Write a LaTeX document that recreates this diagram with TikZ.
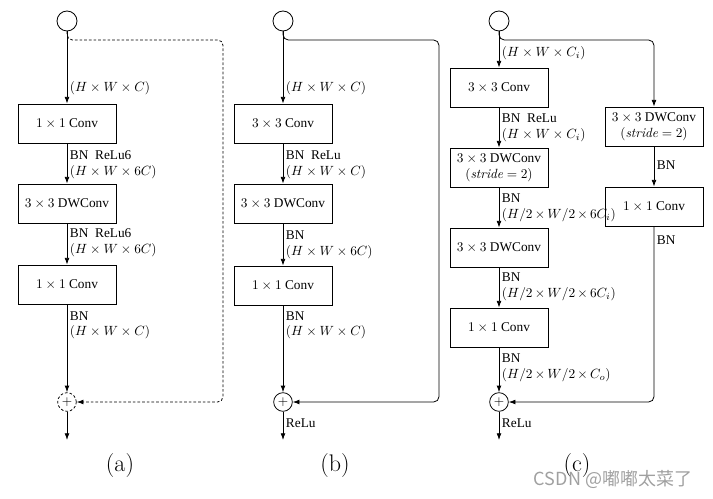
\documentclass[tikz,border=0pt]{standalone}
\usepackage{fontspec}
\usepackage{amsmath}
\usetikzlibrary{arrows.meta}
\newfontfamily\tms{Liberation Serif}
\newfontfamily\cjk{Noto Sans CJK SC}
\definecolor{wmgray}{RGB}{160,160,160}

\tikzset{
  layer/.style={draw, line width=0.6pt, minimum width=73.5pt, minimum height=29.25pt, inner sep=0pt, font=\tms, align=center},
  port/.style={draw, circle, line width=0.6pt, minimum size=15pt, inner sep=0pt},
  flow/.style={line width=0.6pt, -{Latex[length=5pt,width=3.6pt]}},
  tag/.style={anchor=west, inner sep=0.5pt, font=\tms},
  caption/.style={font=\fontsize{18}{20}\selectfont}
}

\begin{document}
\begin{tikzpicture}[x=0.75pt,y=-0.75pt]
\useasboundingbox (0,0) rectangle (713,499);

% (a) inverted residual, stride 1
\node[port] (ain) at (67,21) {};
\node[layer] (abox1) at (67,123.5) {$1\times1$ Conv};
\node[layer] (abox2) at (67,203.5) {$3\times3$ DWConv};
\node[layer] (abox3) at (67,284.5) {$1\times1$ Conv};
\node[port, dashed, dash pattern=on 2pt off 1.5pt, minimum size=14pt] (aplus) at (67,402) {$+$};
\coordinate (aout) at (67,440);
\coordinate (askip) at (223,40);
\draw[flow] (ain) -- (abox1);
\draw[flow] (abox1) -- (abox2);
\draw[flow] (abox2) -- (abox3);
\draw[flow] (abox3) -- (aplus);
\draw[flow] (aplus) -- (aout);
\draw[flow, dashed, dash pattern=on 2pt off 1.5pt, rounded corners=4pt] (ain.south) |- (askip) |- (aplus.east);
\node[tag] at (69,88) {$(H\times W\times C)$};
\node[tag] at (69,155) {BN\ \ ReLu6};
\node[tag] at (69,172) {$(H\times W\times 6C)$};
\node[tag] at (69,233) {BN\ \ ReLu6};
\node[tag] at (69,250) {$(H\times W\times 6C)$};
\node[tag] at (69,316) {BN};
\node[tag] at (69,332) {$(H\times W\times C)$};
\node[caption] (acap) at (120,466) {(a)};

% (b) basic unit, stride 1
\node[port] (bin) at (283,21) {};
\node[layer] (bbox1) at (283,123.5) {$3\times3$ Conv};
\node[layer] (bbox2) at (283,203.5) {$3\times3$ DWConv};
\node[layer] (bbox3) at (283,285.5) {$1\times1$ Conv};
\node[port, minimum size=14pt] (bplus) at (283,402) {$+$};
\coordinate (bout) at (283,440);
\coordinate (bskip) at (439,40);
\draw[flow] (bin) -- (bbox1);
\draw[flow] (bbox1) -- (bbox2);
\draw[flow] (bbox2) -- (bbox3);
\draw[flow] (bbox3) -- (bplus);
\draw[flow] (bplus) -- (bout);
\draw[flow, rounded corners=4pt] (bin.south) |- (bskip) |- (bplus.east);
\node[tag] at (285,88) {$(H\times W\times C)$};
\node[tag] at (285,155) {BN\ \ ReLu};
\node[tag] at (285,172) {$(H\times W\times C)$};
\node[tag] at (285,235) {BN};
\node[tag] at (285,252) {$(H\times W\times 6C)$};
\node[tag] at (285,316) {BN};
\node[tag] at (285,332) {$(H\times W\times C)$};
\node[tag] at (285,423) {ReLu};
\node[caption] (bcap) at (335,466) {(b)};

% (c) down-sampling unit, stride 2
\node[port] (cin) at (499,21) {};
\node[layer] (cbox1) at (499,87.5) {$3\times3$ Conv};
\node[layer] (cbox2) at (499,167.5) {$3\times3$ DWConv\\$(\mathit{stride}=2)$};
\node[layer] (cbox3) at (499,247.5) {$3\times3$ DWConv};
\node[layer] (cbox4) at (499,327.5) {$1\times1$ Conv};
\node[port, minimum size=14pt] (cplus) at (499,402) {$+$};
\coordinate (cout) at (499,440);
\coordinate (cskip) at (654,40);
\node[layer] (crbox1) at (654,126.5) {$3\times3$ DWConv\\$(\mathit{stride}=2)$};
\node[layer] (crbox2) at (654,206.5) {$1\times1$ Conv};
\draw[flow] (cin) -- (cbox1);
\draw[flow] (cbox1) -- (cbox2);
\draw[flow] (cbox2) -- (cbox3);
\draw[flow] (cbox3) -- (cbox4);
\draw[flow] (cbox4) -- (cplus);
\draw[flow] (cplus) -- (cout);
\draw[flow, rounded corners=4pt] (cin.south) |- (cskip) -- (crbox1.north);
\draw[flow] (crbox1) -- (crbox2);
\draw[flow, rounded corners=4pt] (crbox2.south) |- (cplus.east);
\node[tag] at (501,53) {$(H\times W\times C_i)$};
\node[tag] at (501,118) {BN\ \ ReLu};
\node[tag] at (501,135) {$(H\times W\times C_i)$};
\node[tag] at (501,198) {BN};
\node[tag] at (501,215) {$\medmuskip=3mu (H/2\times W/2\times 6C_i)$};
\node[tag] at (501,277) {BN};
\node[tag] at (501,294) {$\medmuskip=3mu (H/2\times W/2\times 6C_i)$};
\node[tag] at (501,358) {BN};
\node[tag] at (501,375) {$\medmuskip=3mu (H/2\times W/2\times C_o)$};
\node[tag] at (501,423) {ReLu};
\node[tag] at (656,165) {BN};
\node[tag] at (656,240) {BN};
\node[caption] (ccap) at (577,466) {(c)};

% watermark
\node[font=\cjk\fontsize{13.5}{16}\selectfont, text=wmgray] (mark) at (613,479) {CSDN @嘟嘟太菜了};
\end{tikzpicture}
\end{document}
